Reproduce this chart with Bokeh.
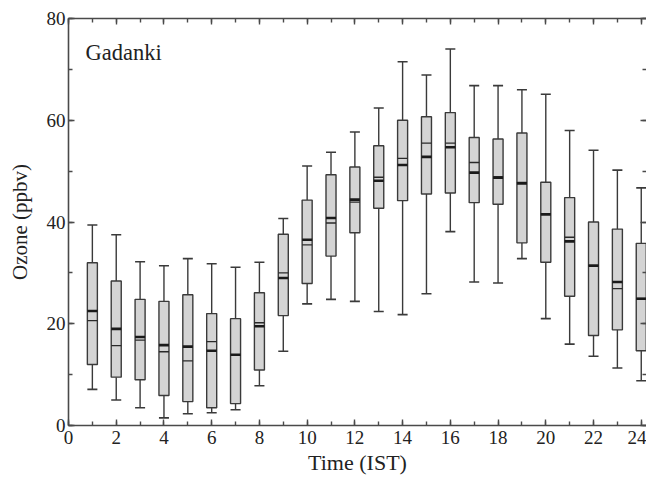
from bokeh.plotting import figure
from bokeh.models import LinearAxis, SingleIntervalTicker, Range1d, Label, CustomLabelingPolicy
from bokeh.embed import file_html
from bokeh.resources import INLINE
import numpy as np

hours = list(range(1, 25))
whisker_high = [39.4, 37.5, 32.2, 31.4, 32.8, 31.8, 31.1, 32.1, 40.7, 51.0, 53.7, 57.7,
                62.4, 71.5, 68.9, 74.0, 66.8, 66.8, 66.0, 65.1, 58.0, 54.1, 50.2, 46.7]
q3 = [32.0, 28.4, 24.8, 24.4, 25.7, 22.0, 21.0, 26.1, 37.6, 44.3, 49.3, 50.8,
      55.0, 60.0, 60.7, 61.5, 56.6, 56.3, 57.5, 47.8, 44.8, 40.0, 38.6, 35.8]
median = [22.5, 19.0, 17.4, 15.8, 15.5, 14.7, 13.9, 19.5, 29.0, 36.5, 40.8, 44.4,
          48.1, 51.2, 52.8, 54.7, 49.7, 48.7, 47.6, 41.5, 36.2, 31.4, 28.2, 24.9]
mean = [20.6, 15.7, 16.8, 14.5, 12.7, 16.5, 13.8, 20.2, 30.0, 35.5, 39.8, 43.9,
        48.8, 52.5, 55.5, 55.5, 51.7, 48.9, 47.8, 41.6, 37.0, 31.5, 26.9, 25.0]
q1 = [12.0, 9.5, 9.0, 5.9, 4.7, 3.5, 4.3, 10.9, 21.6, 27.9, 33.3, 37.9,
      42.7, 44.2, 45.5, 45.7, 43.8, 43.5, 35.9, 32.1, 25.4, 17.7, 18.8, 14.7]
whisker_low = [7.1, 5.0, 3.5, 1.5, 2.3, 2.5, 3.1, 7.8, 14.6, 23.9, 24.8, 24.4,
               22.4, 21.8, 25.9, 38.1, 28.2, 28.0, 32.8, 21.0, 16.0, 13.6, 11.3, 8.8]

FONT = "Liberation Serif"
LINE = "#3a3a3a"
AXIS = "#4a4a4a"
BOX_W = 0.42

p = figure(width=646, height=482, output_backend="svg", toolbar_location=None,
           x_range=Range1d(0, 24.22), y_range=Range1d(0, 80),
           min_border_left=68, min_border_right=0, min_border_top=18, min_border_bottom=57,
           x_axis_label="Time (IST)", y_axis_label="Ozone (ppbv)")
p.xgrid.visible = False
p.ygrid.visible = False
p.outline_line_color = None
p.background_fill_color = "white"
p.border_fill_color = "white"

h = np.array(hours, dtype=float)
left = h - BOX_W / 2
right = h + BOX_W / 2

# whiskers
p.segment(x0=h, y0=q3, x1=h, y1=whisker_high, line_color=LINE, line_width=1.4)
p.segment(x0=h, y0=q1, x1=h, y1=whisker_low, line_color=LINE, line_width=1.4)
p.segment(x0=left, y0=whisker_high, x1=right, y1=whisker_high, line_color=LINE, line_width=1.6)
p.segment(x0=left, y0=whisker_low, x1=right, y1=whisker_low, line_color=LINE, line_width=1.6)
# boxes
p.vbar(x=h, width=BOX_W, top=q3, bottom=q1, fill_color="#d4d4d4", line_color=LINE, line_width=1.4)
# lines inside boxes
p.segment(x0=left, y0=mean, x1=right, y1=mean, line_color="#2a2a2a", line_width=1.3)
p.segment(x0=left, y0=median, x1=right, y1=median, line_color="#1a1a1a", line_width=2.6)

xt = SingleIntervalTicker(interval=2, num_minor_ticks=2)
yt = SingleIntervalTicker(interval=20, num_minor_ticks=2)

hide_all = CustomLabelingPolicy(code="""
try { for (const i of Array.from(indices)) { indices.unset(i) } } catch (e) {}
return indices
""")

def style(ax, labels=True):
    ax.axis_line_color = AXIS
    ax.axis_line_width = 1.6
    ax.major_tick_line_color = AXIS
    ax.minor_tick_line_color = AXIS
    ax.major_tick_line_width = 1.4
    ax.minor_tick_line_width = 1.4
    ax.major_tick_in = 6
    ax.major_tick_out = 0
    ax.minor_tick_in = 4
    ax.minor_tick_out = 0
    ax.major_label_text_font = FONT
    ax.major_label_text_color = "#222222"
    ax.axis_label_text_font = FONT
    ax.axis_label_text_font_style = "normal"
    ax.axis_label_text_color = "#222222"
    if not labels:
        ax.major_label_text_font_size = "0px"
        ax.major_label_policy = hide_all
        ax.major_label_standoff = 0

xa = p.xaxis[0]
xa.ticker = xt
style(xa)
xa.major_label_text_font_size = "19px"
xa.axis_label_text_font_size = "22px"
xa.major_label_standoff = 5
xa.axis_label_standoff = 3

ya = p.yaxis[0]
ya.ticker = yt
style(ya)
ya.major_label_text_font_size = "19px"
ya.axis_label_text_font_size = "21px"
ya.major_label_standoff = 3
ya.axis_label_standoff = 12

top = LinearAxis(ticker=SingleIntervalTicker(interval=2, num_minor_ticks=2))
style(top, labels=False)
p.add_layout(top, "above")

rt = LinearAxis(ticker=SingleIntervalTicker(interval=20, num_minor_ticks=2))
style(rt, labels=False)
rt.axis_line_color = None
p.add_layout(rt, "right")

p.add_layout(Label(x=0.71, y=73.4, text="Gadanki", text_font=FONT, text_font_size="22.5px",
                   text_color="#222222", text_baseline="alphabetic"))

open("out.html", "w").write(file_html(p, INLINE))
